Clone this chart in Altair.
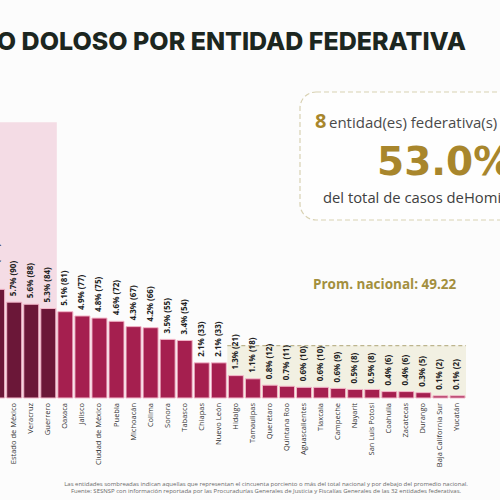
import altair as alt
import pandas as pd

# Homicidio doloso por entidad federativa (casos y porcentaje del total nacional)
estados = [
    "Morelos", "Estado de México", "Veracruz", "Guerrero", "Oaxaca", "Jalisco",
    "Ciudad de México", "Puebla", "Michoacán", "Colima", "Sonora", "Tabasco",
    "Chiapas", "Nuevo León", "Hidalgo", "Tamaulipas", "Querétaro",
    "Quintana Roo", "Aguascalientes", "Tlaxcala", "Campeche", "Nayarit",
    "San Luis Potosí", "Coahuila", "Zacatecas", "Durango",
    "Baja California Sur", "Yucatán",
]
casos = [102, 90, 88, 84, 81, 77, 75, 72, 67, 66, 55, 54, 33, 33, 21, 18,
         12, 11, 10, 10, 9, 8, 8, 6, 6, 5, 2, 2]
porcentajes = [6.5, 5.7, 5.6, 5.3, 5.1, 4.9, 4.8, 4.6, 4.3, 4.2, 3.5, 3.4,
               2.1, 2.1, 1.3, 1.1, 0.8, 0.7, 0.6, 0.6, 0.6, 0.5, 0.5, 0.4,
               0.4, 0.3, 0.1, 0.1]

# Entidades que concentran la mitad de los casos
entidades_sombreadas = ["Morelos", "Estado de México", "Veracruz", "Guerrero"]
casos_lider = 259
n_entidades = 8
pct_concentrado = 53.0

# Entidades por debajo del promedio nacional (zona resaltada)
inicio_bajo_promedio = "Hidalgo"
promedio_nacional = 49.22

titulo = "HOMICIDIO DOLOSO POR ENTIDAD FEDERATIVA"
notas = [
    "Las entidades sombreadas indican aquellas que representan el cincuenta porciento o más del total nacional y por debajo del promedio nacional.",
    "Fuente: SESNSP con información reportada por las Procuradurías Generales de Justicia y Fiscalías Generales de las 32 entidades federativas.",
]

df = pd.DataFrame({"estado": estados, "casos": casos, "pct": porcentajes})
df["pos"] = range(len(df))
df["grupo"] = ["alto" if e in entidades_sombreadas else "resto" for e in estados]
df["etiqueta"] = [f"{p:.1f}% ({c})" for p, c in zip(porcentajes, casos)]

pos_ultimo_sombreado = int(df.loc[df.estado.isin(entidades_sombreadas), "pos"].max())
pos_bajo = int(df.loc[df.estado == inicio_bajo_promedio, "pos"].iloc[0])
pos_final = int(df.pos.max())

zona_alta = pd.DataFrame({"x0": [-6.0], "x1": [pos_ultimo_sombreado + 0.5],
                          "y0": [0], "y1": [casos_lider]})
zona_baja = pd.DataFrame({"x0": [pos_bajo - 0.5], "x1": [pos_final + 0.5],
                          "y0": [0], "y1": [promedio_nacional]})

FONT = "Open Sans"
xs = alt.Scale(domain=[0.167, 29.493], nice=False, zero=False)
ys = alt.Scale(domain=[-95.8, 373.7], nice=False, zero=False)

fondo_alto = alt.Chart(zona_alta).mark_rect(color="#f4dce5").encode(
    x=alt.X("x0:Q", scale=xs, axis=None), x2="x1:Q",
    y=alt.Y("y0:Q", scale=ys, axis=None), y2="y1:Q",
)
fondo_bajo = alt.Chart(zona_baja).mark_rect(color="#f2f0e2").encode(
    x=alt.X("x0:Q", scale=xs, axis=None), x2="x1:Q",
    y=alt.Y("y0:Q", scale=ys, axis=None), y2="y1:Q",
)
linea_prom = alt.Chart(zona_baja).mark_rule(
    color="#bdb58e", strokeDash=[4, 3], strokeWidth=1.2
).encode(
    x=alt.X("x0:Q", scale=xs, axis=None), x2="x1:Q",
    y=alt.Y("y1:Q", scale=ys, axis=None),
)

barras = alt.Chart(df).transform_calculate(
    x0="datum.pos - 0.44", x1="datum.pos + 0.44"
).mark_bar(stroke="#f2b5c8", strokeWidth=1, clip=True).encode(
    x=alt.X("x0:Q", scale=xs, axis=None), x2="x1:Q",
    y=alt.Y("casos:Q", scale=ys, axis=None), y2=alt.datum(0),
    color=alt.Color("grupo:N", legend=None,
                    scale=alt.Scale(domain=["alto", "resto"],
                                    range=["#6b1738", "#a51f4f"])),
)

valores = alt.Chart(df).mark_text(
    angle=270, align="left", baseline="middle", dx=6,
    font=FONT, fontSize=8, fontWeight="bold", color="#222"
).encode(
    x=alt.X("pos:Q", scale=xs, axis=None),
    y=alt.Y("casos:Q", scale=ys, axis=None),
    text="etiqueta:N",
)

nombres = alt.Chart(df).mark_text(
    angle=270, align="right", baseline="middle", dx=-5,
    font=FONT, fontSize=7.5, color="#333"
).encode(
    x=alt.X("pos:Q", scale=xs, axis=None),
    y=alt.Y(datum=0, scale=ys, axis=None),
    text="estado:N",
)

encabezado = alt.Chart(pd.DataFrame({"t": [titulo]})).mark_text(
    align="right", baseline="alphabetic", font="Inter", fontSize=25,
    fontWeight=800, color="#1c2620"
).encode(x=alt.value(466), y=alt.value(50), text="t:N")

texto_prom = alt.Chart(pd.DataFrame({"t": [f"Prom. nacional: {promedio_nacional:.2f}"]})).mark_text(
    align="left", baseline="alphabetic", font=FONT, fontSize=13.5,
    fontWeight="bold", color="#a38f3e"
).encode(x=alt.value(313), y=alt.value(289), text="t:N")

recuadro = alt.Chart(pd.DataFrame({"k": [1]})).mark_rect(
    fill="#fefefe", stroke="#d8d1b2", strokeDash=[5, 3], strokeWidth=1.2,
    cornerRadius=16
).encode(x=alt.value(300), x2=alt.value(640), y=alt.value(92), y2=alt.value(220))

num_entidades = alt.Chart(pd.DataFrame({"t": [str(n_entidades)]})).mark_text(
    align="left", baseline="alphabetic", font=FONT, fontSize=20,
    fontWeight="bold", color="#a8862c"
).encode(x=alt.value(315), y=alt.value(128), text="t:N")

texto_entidades = alt.Chart(pd.DataFrame({"t": ["entidad(es) federativa(s)"]})).mark_text(
    align="left", baseline="alphabetic", font=FONT, fontSize=15, color="#4a4a4a"
).encode(x=alt.value(329), y=alt.value(128), text="t:N")

texto_pct = alt.Chart(pd.DataFrame({"t": [f"{pct_concentrado:.1f}%"]})).mark_text(
    align="left", baseline="alphabetic", font="DejaVu Sans", fontSize=39,
    fontWeight="bold", color="#a8862c"
).encode(x=alt.value(377), y=alt.value(175), text="t:N")

texto_total = alt.Chart(pd.DataFrame({"t": ["del total de casos deHomicidio doloso"]})).mark_text(
    align="left", baseline="alphabetic", font=FONT, fontSize=14.8, color="#3f3f3f"
).encode(x=alt.value(323), y=alt.value(203), text="t:N")

pie = alt.Chart(pd.DataFrame({"t": notas, "fila": [0, 1]})).transform_calculate(
    yy="486 + datum.fila * 7"
).mark_text(
    align="center", baseline="alphabetic", font=FONT, fontSize=6, color="#6a6a6a"
).encode(x=alt.value(266), y=alt.Y("yy:Q", scale=None, axis=None), text="t:N")

chart = alt.layer(
    fondo_alto, fondo_bajo, linea_prom, barras, valores, nombres,
    encabezado, texto_prom, recuadro, num_entidades, texto_entidades,
    texto_pct, texto_total, pie,
).properties(
    width=500, height=500, padding=0,
    autosize=alt.AutoSizeParams(type="none"),
    background="#fcfcfc",
).configure_view(stroke=None)

chart.save("out.html", embed_options={"renderer": "svg", "actions": False})
